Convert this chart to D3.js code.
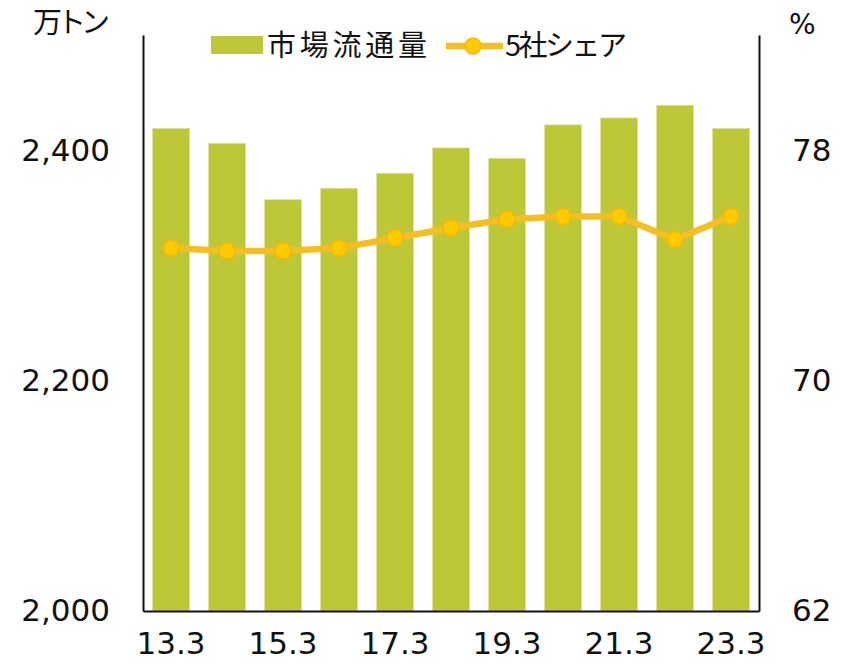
<!DOCTYPE html>
<html>
<head>
<meta charset="utf-8">
<script src="https://cdn.jsdelivr.net/npm/d3@7"></script>
<style>
  body { margin: 0; background: #fff; }
  text { font-family: "DejaVu Sans", "Noto Sans CJK JP", sans-serif; fill: #111; }
  .jp { font-family: "Noto Sans CJK JP", sans-serif; }
</style>
</head>
<body>
<div id="chart"></div>
<script>
// data
const periods = ["13.3", "14.3", "15.3", "16.3", "17.3", "18.3", "19.3", "20.3", "21.3", "22.3", "23.3"];
const volume = [2419, 2406, 2357, 2367, 2380, 2402, 2393, 2422, 2428, 2439, 2419];
const share = [74.6, 74.5, 74.5, 74.6, 74.95, 75.3, 75.6, 75.7, 75.7, 74.9, 75.7];
const leftTicks = [2000, 2200, 2400];
const rightTicks = [62, 70, 78];
const xLabels = ["13.3", "15.3", "17.3", "19.3", "21.3", "23.3"];

const width = 844, height = 662;
const margin = { top: 35, right: 85, bottom: 51, left: 143 };

const svg = d3.select("#chart")
  .append("svg")
  .attr("width", width)
  .attr("height", height);

const x = d3.scaleBand()
  .domain(periods)
  .range([margin.left, width - margin.right])
  .paddingInner(0.34)
  .paddingOuter(0.17);

const yL = d3.scaleLinear()
  .domain([2000, 2500])
  .range([height - margin.bottom, margin.top]);

const yR = d3.scaleLinear()
  .domain([62, 82])
  .range([height - margin.bottom, margin.top]);

// bars
svg.append("g")
  .selectAll("rect")
  .data(volume)
  .join("rect")
  .attr("x", (d, i) => x(periods[i]))
  .attr("width", x.bandwidth())
  .attr("y", d => yL(d))
  .attr("height", d => yL(2000) - yL(d))
  .attr("fill", "#bdc738")
  .attr("stroke", "#dfe3a0")
  .attr("stroke-width", 0.8);

// axes
const leftAxis = svg.append("g")
  .attr("transform", `translate(${margin.left},0)`)
  .call(d3.axisLeft(yL).tickValues(leftTicks).tickSize(0).tickPadding(33).tickFormat(d3.format(",")));
const rightAxis = svg.append("g")
  .attr("transform", `translate(${width - margin.right},0)`)
  .call(d3.axisRight(yR).tickValues(rightTicks).tickSize(0).tickPadding(33));
const bottomAxis = svg.append("g")
  .attr("transform", `translate(0,${height - margin.bottom})`)
  .call(d3.axisBottom(x).tickValues(xLabels).tickSize(0).tickPadding(21));

[leftAxis, rightAxis, bottomAxis].forEach(g => {
  g.select(".domain").attr("stroke", "#111").attr("stroke-width", 2);
  g.selectAll("text").attr("font-size", 31).attr("fill", "#111");
});

// share line
const line = d3.line()
  .x((d, i) => x(periods[i]) + x.bandwidth() / 2)
  .y(d => yR(d));

svg.append("path")
  .datum(share)
  .attr("d", line)
  .attr("fill", "none")
  .attr("stroke", "#f5be22")
  .attr("stroke-width", 6.5);

svg.append("g")
  .selectAll("circle")
  .data(share)
  .join("circle")
  .attr("cx", (d, i) => x(periods[i]) + x.bandwidth() / 2)
  .attr("cy", d => yR(d))
  .attr("r", 8)
  .attr("fill", "#ffca00")
  .attr("stroke", "#f7b800")
  .attr("stroke-width", 1.5);

// unit labels
svg.append("text")
  .attr("class", "jp")
  .attr("x", 33)
  .attr("y", 33)
  .attr("font-size", 29)
  .attr("textLength", 77)
  .text("万トン");

svg.append("text")
  .attr("x", 789)
  .attr("y", 34)
  .attr("font-size", 28)
  .text("%");

// legend
const legend = svg.append("g");
legend.append("rect")
  .attr("x", 211).attr("y", 36)
  .attr("width", 52).attr("height", 18)
  .attr("fill", "#bdc738");
legend.append("text")
  .attr("class", "jp")
  .attr("x", 267).attr("y", 56)
  .attr("font-size", 29)
  .attr("textLength", 160)
  .text("市場流通量");
legend.append("line")
  .attr("x1", 446).attr("x2", 503)
  .attr("y1", 46).attr("y2", 46)
  .attr("stroke", "#f5be22")
  .attr("stroke-width", 6.5);
legend.append("circle")
  .attr("cx", 473).attr("cy", 46).attr("r", 8)
  .attr("fill", "#ffca00")
  .attr("stroke", "#f7b800")
  .attr("stroke-width", 1.5);
legend.append("text")
  .attr("class", "jp")
  .attr("x", 505).attr("y", 56)
  .attr("font-size", 29)
  .attr("textLength", 122)
  .text("5社シェア");
</script>
</body>
</html>
